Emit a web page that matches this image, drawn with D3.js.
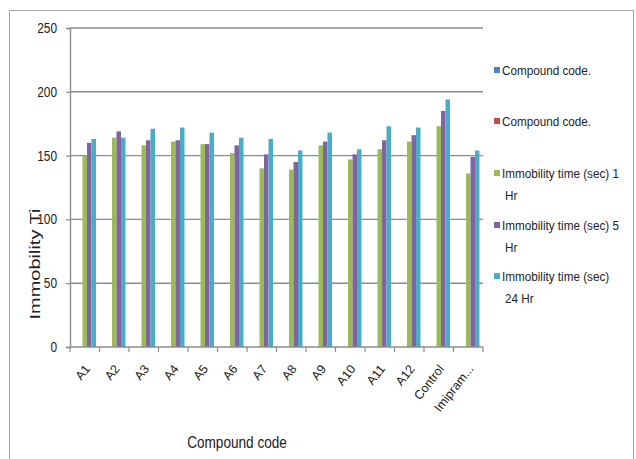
<!DOCTYPE html>
<html>
<head>
<meta charset="utf-8">
<script src="https://cdn.jsdelivr.net/npm/d3@7"></script>
<style>
  html, body { margin: 0; padding: 0; background: #fff; }
  svg { display: block; font-family: "Liberation Sans", Arial, sans-serif; }
</style>
</head>
<body>
<svg id="chart" width="636" height="459"></svg>
<script>
// Compound codes on the x axis
const categories = ["A1", "A2", "A3", "A4", "A5", "A6", "A7", "A8", "A9", "A10", "A11", "A12", "Control", "Imipram..."];

// Series names (legend order)
const seriesNames = [
  "Compound code.",
  "Compound code.",
  "Immobility time (sec) 1 Hr",
  "Immobility time (sec) 5 Hr",
  "Immobility time (sec) 24 Hr"
];

// Legend text, split into the two lines each entry wraps to
const legendLines = [
  ["Compound code."],
  ["Compound code."],
  ["Immobility time (sec) 1", "Hr"],
  ["Immobility time (sec) 5", "Hr"],
  ["Immobility time (sec)", "24 Hr"]
];

// Values per series; the two "Compound code." series carry no values
const codeA = [null, null, null, null, null, null, null, null, null, null, null, null, null, null];
const codeB = [null, null, null, null, null, null, null, null, null, null, null, null, null, null];
const hr1  = [150, 164, 158, 161, 159, 152, 140, 139, 158, 147, 155, 161, 173, 136];
const hr5  = [160, 169, 162, 162, 159, 158, 151, 145, 161, 151, 162, 166, 185, 149];
const hr24 = [163, 164, 171, 172, 168, 164, 163, 154, 168, 155, 173, 172, 194, 154];

const yTicks = [0, 50, 100, 150, 200, 250];
const colors = ["#4F81BD", "#C0504D", "#9BBB59", "#8064A2", "#4BACC6"];

const seriesValues = [codeA, codeB, hr1, hr5, hr24];

const svg = d3.select("#chart");

// Outer chart frame
svg.append("rect")
  .attr("x", 9.5).attr("y", 10.5)
  .attr("width", 624).attr("height", 460)
  .attr("fill", "#fff").attr("stroke", "#a6a6a6").attr("stroke-width", 1);

const plot = { left: 70, right: 483, top: 28, bottom: 347 };

const x0 = d3.scaleBand().domain(categories).range([plot.left, plot.right]).padding(0);
const x1 = d3.scaleBand().domain(d3.range(seriesNames.length))
  .range([0, x0.bandwidth()]).paddingInner(0).paddingOuter(0.78);
const y = d3.scaleLinear().domain([0, 250]).range([plot.bottom, plot.top]);

// Horizontal gridlines
svg.append("g").selectAll("line").data(yTicks.filter(d => d > 0)).join("line")
  .attr("x1", plot.left).attr("x2", plot.right)
  .attr("y1", d => y(d)).attr("y2", d => y(d))
  .attr("stroke", "#8c8c8c").attr("stroke-width", 1.4);

// Bars
const groups = svg.append("g").selectAll("g").data(categories).join("g")
  .attr("transform", d => `translate(${x0(d)},0)`);
groups.selectAll("rect")
  .data((c, i) => seriesValues.map((vals, s) => ({ s, v: vals[i] })).filter(d => d.v != null))
  .join("rect")
  .attr("x", d => x1(d.s))
  .attr("width", x1.bandwidth())
  .attr("y", d => y(d.v))
  .attr("height", d => y(0) - y(d.v))
  .attr("fill", d => colors[d.s]);

// Y axis
const yAxis = svg.append("g").attr("transform", `translate(${plot.left},0)`)
  .call(d3.axisLeft(y).tickValues(yTicks).tickSize(4).tickPadding(9).tickFormat(d3.format("d")));
yAxis.select(".domain").attr("stroke", "#8c8c8c").attr("stroke-width", 1.4);
yAxis.selectAll(".tick line").attr("stroke", "#8c8c8c").attr("stroke-width", 1.2);
yAxis.selectAll(".tick text")
  .attr("font-size", 14).attr("fill", "#222")
  .attr("transform", "scale(0.85,1)")
  .attr("x", -13 / 0.85);

// X axis line and tick marks between categories
const xAxisG = svg.append("g");
xAxisG.append("line")
  .attr("x1", plot.left).attr("x2", plot.right)
  .attr("y1", plot.bottom).attr("y2", plot.bottom)
  .attr("stroke", "#8c8c8c").attr("stroke-width", 1.4);
const boundaries = categories.map(c => x0(c)).concat([x0(categories[categories.length - 1]) + x0.bandwidth()]);
xAxisG.selectAll("line.tk").data(boundaries).join("line").attr("class", "tk")
  .attr("x1", d => d).attr("x2", d => d)
  .attr("y1", plot.bottom).attr("y2", plot.bottom + 5)
  .attr("stroke", "#8c8c8c").attr("stroke-width", 1.2);

// Rotated category labels
xAxisG.selectAll("text").data(categories).join("text")
  .attr("transform", d => `translate(${x0(d) + x0.bandwidth() / 2 + 6},${plot.bottom + 22}) rotate(-52)`)
  .attr("text-anchor", "end")
  .attr("font-size", 12.5)
  .attr("fill", "#222")
  .text(d => d);

// Axis titles
svg.append("text")
  .attr("transform", "translate(237,448) scale(0.85,1)")
  .attr("text-anchor", "middle")
  .attr("font-size", 16)
  .attr("fill", "#222")
  .text("Compound code");

svg.append("text")
  .attr("transform", "translate(40,264) scale(0.72,1) rotate(-90)")
  .attr("text-anchor", "middle")
  .attr("font-size", 20)
  .attr("fill", "#222")
  .text("Immobility Ti");

// Legend
const legendY = [70, 121, 173, 225, 276];
const legend = svg.append("g").selectAll("g").data(legendLines).join("g")
  .attr("transform", (d, i) => `translate(494,${legendY[i]})`);
legend.append("rect")
  .attr("x", 0).attr("y", -3).attr("width", 6).attr("height", 6)
  .attr("fill", (d, i) => colors[i]);
legend.each(function(lines) {
  const g = d3.select(this);
  lines.forEach((t, k) => {
    g.append("text")
      .attr("transform", `translate(${k === 0 ? 8 : 11},${k * 22 + 5}) scale(0.9,1)`)
      .attr("font-size", 13)
      .attr("fill", "#222")
      .text(t);
  });
});
</script>
</body>
</html>
